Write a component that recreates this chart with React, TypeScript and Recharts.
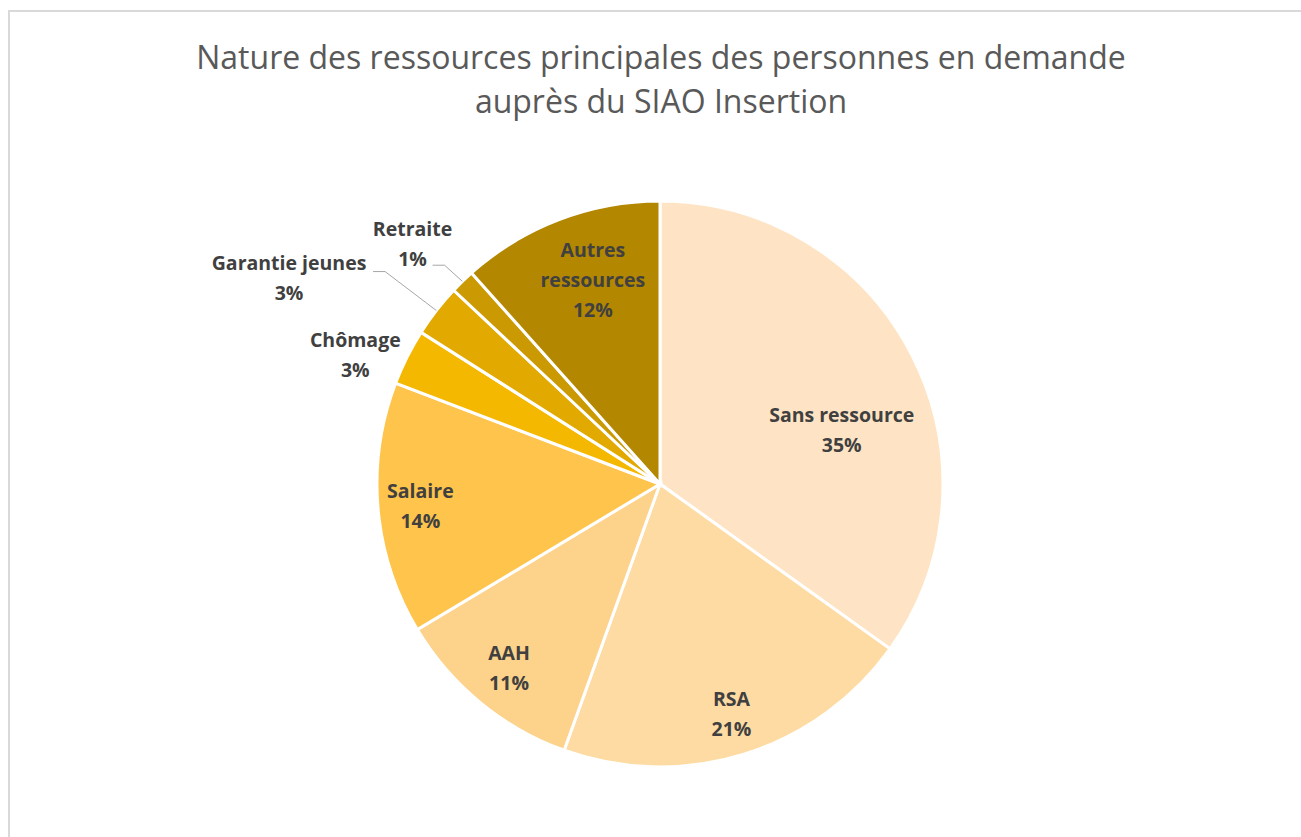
import React from "react";
import { PieChart, Pie, Cell } from "recharts";

const categories = [
  "Sans ressource",
  "RSA",
  "AAH",
  "Salaire",
  "Chômage",
  "Garantie jeunes",
  "Retraite",
  "Autres ressources",
];
const values = [34.9, 20.6, 10.9, 14.4, 3.2, 3.0, 1.4, 11.6];
const colors = [
  "#FEE4C4",
  "#FEDBA3",
  "#FDD28A",
  "#FEC44B",
  "#F5B800",
  "#E2A900",
  "#CB9A02",
  "#B38700",
];
const titleLines = [
  "Nature des ressources principales des personnes en demande",
  "auprès du SIAO Insertion",
];

// label placement tweaks (radius factor, angular shift clockwise in degrees, leader line end offset)
const labelLayout: Record<string, { rf: number; shift: number; lines?: string[]; leader?: { dx: number; dy: number } }> = {
  "Sans ressource": { rf: 0.67, shift: 10.6 },
  RSA: { rf: 0.85, shift: 0 },
  AAH: { rf: 0.84, shift: 0 },
  Salaire: { rf: 0.85, shift: 0 },
  "Chômage": { rf: 1.17, shift: -3.6 },
  "Garantie jeunes": { rf: 1.5, shift: -8.7, leader: { dx: 84, dy: -6 } },
  Retraite: { rf: 1.22, shift: -1.5, leader: { dx: 20, dy: 22 } },
  "Autres ressources": { rf: 0.76, shift: 2.7, lines: ["Autres", "ressources"] },
};

const data = categories.map((name, i) => ({ name, value: values[i] }));

const RAD = Math.PI / 180;
const FONT = "'Open Sans', 'Noto Sans', sans-serif";

const renderLabel = (props: any) => {
  const { cx, cy, midAngle, outerRadius, percent, name } = props;
  const cfg = labelLayout[name] || { rf: 0.8, shift: 0 };
  const ang = midAngle - cfg.shift;
  const r = outerRadius * cfg.rf;
  const lx = cx + r * Math.cos(-ang * RAD);
  const ly = cy + r * Math.sin(-ang * RAD);
  const nameLines = cfg.lines || [name];
  const all = [...nameLines, `${Math.round(percent * 100)}%`];
  const lh = 30;
  const top = ly - ((all.length - 1) * lh) / 2;
  let leader = null;
  if (cfg.leader) {
    const ex = cx + outerRadius * Math.cos(-midAngle * RAD);
    const ey = cy + outerRadius * Math.sin(-midAngle * RAD);
    const endX = lx + cfg.leader.dx;
    const endY = ly + cfg.leader.dy;
    const elbX = endX + 12;
    leader = (
      <polyline
        points={`${ex},${ey} ${elbX},${endY} ${endX},${endY}`}
        fill="none"
        stroke="#A6A6A6"
        strokeWidth={1}
      />
    );
  }
  return (
    <g>
      {leader}
      {all.map((t, i) => (
        <text
          key={i}
          x={lx}
          y={top + i * lh}
          textAnchor="middle"
          dominantBaseline="central"
          fill="#404040"
          fontFamily={FONT}
          fontWeight={700}
          fontSize={19.5}
        >
          {t}
        </text>
      ))}
    </g>
  );
};

export default function App() {
  return (
    <div
      style={{
        position: "fixed",
        left: 8,
        top: 10,
        width: 1310,
        height: 840,
        border: "2px solid #D9D9D9",
        background: "#fff",
        boxSizing: "border-box",
      }}
    >
      <div
        style={{
          position: "absolute",
          left: 0,
          top: 23,
          width: 1302,
          textAlign: "center",
          fontFamily: FONT,
          fontSize: 32,
          lineHeight: "44px",
          color: "#595959",
        }}
      >
        {titleLines.map((l, i) => (
          <div key={i}>{l}</div>
        ))}
      </div>
      <div style={{ position: "absolute", left: 0, top: 0 }}>
        <PieChart width={1300} height={830} margin={{ top: 0, right: 0, bottom: 0, left: 0 }}>
          <Pie
            data={data}
            dataKey="value"
            nameKey="name"
            cx={650}
            cy={472}
            outerRadius={283}
            startAngle={90}
            endAngle={-270}
            stroke="#FFFFFF"
            strokeWidth={3}
            labelLine={false}
            label={renderLabel}
            isAnimationActive={false}
          >
            {data.map((d, i) => (
              <Cell key={d.name} fill={colors[i]} />
            ))}
          </Pie>
        </PieChart>
      </div>
    </div>
  );
}
